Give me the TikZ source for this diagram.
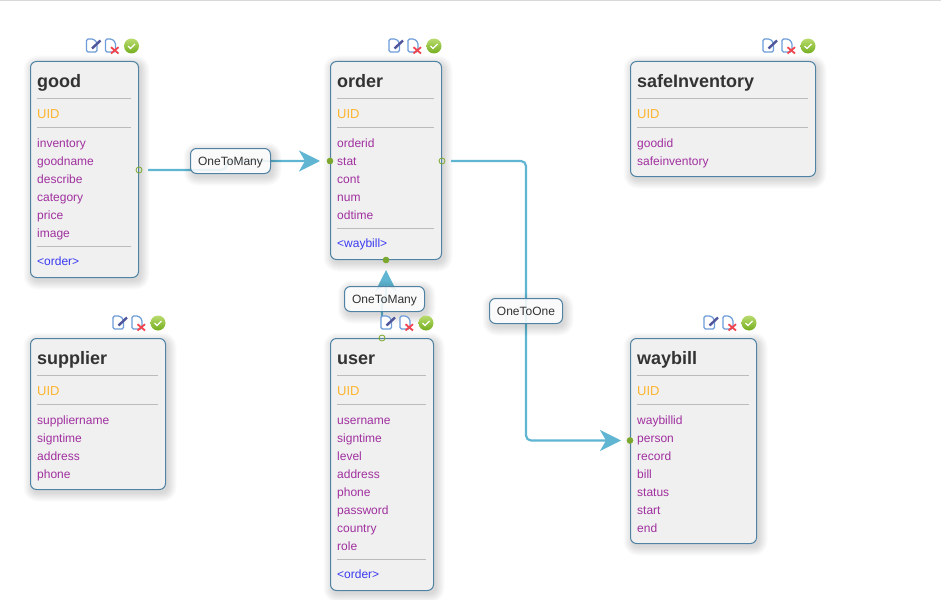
\documentclass[tikz,border=0pt]{standalone}
\usepackage{fontspec}
\setmainfont{Liberation Sans}
\usetikzlibrary{arrows.meta,calc}
\definecolor{edgeblue}{HTML}{4F82A3}
\definecolor{cardfill}{HTML}{F0F0F0}
\definecolor{ruleg}{HTML}{BBBBBB}
\definecolor{uidc}{HTML}{FFB52E}
\definecolor{attrc}{HTML}{A0309F}
\definecolor{relc}{HTML}{3A3AF0}
\definecolor{titlec}{HTML}{333333}
\definecolor{linkc}{HTML}{5FB5D2}
\definecolor{portc}{HTML}{7BA82C}
\definecolor{paperc}{HTML}{6C9BD8}
\definecolor{penc}{HTML}{50569C}
\definecolor{crossc}{HTML}{F0454F}
\definecolor{balltop}{HTML}{B9DC6E}
\definecolor{ballbot}{HTML}{74AD1E}
\tikzset{
  cardbox/.style={draw=edgeblue,line width=1pt,fill=cardfill,rounded corners=6pt,inner sep=0pt,outer sep=0pt},
  titletext/.style={anchor=base west,inner sep=0pt,font=\fontsize{18}{20}\selectfont\bfseries,text=titlec},
  uidtext/.style={anchor=base west,inner sep=0pt,font=\fontsize{13}{15}\selectfont,text=uidc},
  attrtext/.style={anchor=base west,inner sep=0pt,font=\fontsize{12}{14}\selectfont,text=attrc},
  reltext/.style={anchor=base west,inner sep=0pt,font=\fontsize{12}{14}\selectfont,text=relc},
  rulel/.style={draw=ruleg,line width=1pt},
  portopen/.style={circle,draw=portc,fill=none,line width=0.8pt,minimum size=6pt,inner sep=0pt,outer sep=0pt},
  portfull/.style={circle,draw=portc,fill=portc,line width=0.5pt,minimum size=6pt,inner sep=0pt,outer sep=0pt},
  linkline/.style={draw=linkc,line width=2.2pt,rounded corners=5pt,
    -{Stealth[length=21pt,width=21pt,inset=6pt,fill=linkc]}},
  linklabel/.style={draw=edgeblue,line width=1pt,fill=white,fill opacity=.88,text opacity=1,rounded corners=6pt,
    inner sep=0pt,text=titlec,text height=8pt,text depth=0pt,font=\fontsize{12}{14}\selectfont},
  paper/.style={draw=paperc,line width=1.2pt,fill=white,rounded corners=1.5pt},
}
\newcommand{\softshadow}[4]{%
  \foreach \s in {9,8,7,6,5,4,3,2,1,0}{%
    \pgfmathsetmacro{\rr}{5+\s}
    \fill[black,opacity=.016,rounded corners=\rr pt] ({#1-\s+2},{#2-\s+3}) rectangle ({#3+\s+2},{#4+\s+3});
  }}
% id, title, x1, y1, x2, y2, attributes, relation
\newcommand{\card}[8]{%
  \softshadow{#3}{#4}{#5}{#6}
  \node[cardbox,minimum width={(#5-#3)*1pt},minimum height={(#6-#4)*1pt}] (#1) at ({(#3+#5)/2},{(#4+#6)/2}) {};
  \node[titletext] (#1-title) at ({#3+6.5},{#4+26}) {#2};
  \draw[rulel] ({#3+6.5},{#4+37}) -- ({#5-7.5},{#4+37});
  \node[uidtext] (#1-uid) at ({#3+6.5},{#4+56.5}) {UID};
  \draw[rulel] ({#3+6.5},{#4+66}) -- ({#5-7.5},{#4+66});
  \foreach \a [count=\i from 0] in {#7}{%
    \node[attrtext] (#1-a\i) at ({#3+6.5},{#4+86+18*\i}) {\a};
  }
  \if\relax\detokenize{#8}\relax\else
    \draw[rulel] ({#3+6.5},{#6-31.5}) -- ({#5-7.5},{#6-31.5});
    \node[reltext] (#1-rel) at ({#3+6.5},{#6-12}) {#8};
  \fi
}
% icon row, given the centre of the check mark
\newcommand{\icons}[2]{%
  \begin{scope}[shift={(#1,#2)}]
    \draw[paper] (-45,-7) -- (-38,-7) -- (-34.5,-3.5) -- (-34.5,6) -- (-45,6) -- cycle;
    \draw[penc,line width=2.4pt] (-39.5,2.5) -- (-31,-5.5);
    \draw[paper] (-26,-7) -- (-19.5,-7) -- (-16,-3.5) -- (-16,6) -- (-26,6) -- cycle;
    \draw[crossc,line width=1.8pt] (-20.5,1.2) -- (-13,7.5) (-13,1.2) -- (-20.5,7.5);
    \shade[top color=balltop,bottom color=ballbot] (0,0) circle (7.5);
    \draw[white,line width=1.3pt] (-3.5,0) -- (-1,2.5) -- (3.5,-2);
  \end{scope}}
\begin{document}
\begin{tikzpicture}[x=1pt,y=-1pt]
\useasboundingbox (0,0) rectangle (941,599);
\draw[black!15,line width=1pt] (0,0.5) -- (941,0.5);

\card{good}{good}{30.5}{61.5}{138.5}{277.5}{inventory,goodname,describe,category,price,image}{<order>}
\card{order}{order}{330.5}{61.5}{441.5}{259.5}{orderid,stat,cont,num,odtime}{<waybill>}
\card{safe}{safeInventory}{630.5}{61.5}{815.5}{176.5}{goodid,safeinventory}{}
\card{supplier}{supplier}{30.5}{338.5}{165.5}{489.5}{suppliername,signtime,address,phone}{}
\card{user}{user}{330.5}{338.5}{433.5}{590.5}{username,signtime,level,address,phone,password,country,role}{<order>}
\card{waybill}{waybill}{630.5}{338.5}{756.5}{543.5}{waybillid,person,record,bill,status,start,end}{}

\node[portopen] (pgood) at (139,170) {};
\node[portfull] (porderin) at (330,161) {};
\node[portopen] (porderout) at (442,161) {};
\node[portfull] (porderbot) at (386,260) {};
\node[portopen] (puser) at (382,338) {};
\node[portfull] (pway) at (630,440.5) {};

\coordinate (e1a) at (226,170);
\coordinate (e1b) at (226,161);
\coordinate (e2a) at (382,300);
\coordinate (e2b) at (386,300);
\coordinate (e3a) at (526,161);
\coordinate (e3b) at (526,440.5);

\draw[linkline,shorten <=6pt,shorten >=7pt] (pgood) -- (e1a) -- (e1b) -- (porderin);
\draw[linkline,shorten <=6pt,shorten >=7pt] (puser) -- (e2a) -- (e2b) -- (porderbot);
\draw[linkline,shorten <=6pt,shorten >=6pt] (porderout) -- (e3a) -- (e3b) -- (pway);

\softshadow{190.5}{148.5}{270.5}{173.5}
\node[linklabel,minimum width=80pt,minimum height=25pt] (lab1) at (230.5,161) {OneToMany};
\softshadow{344.5}{286.5}{424.5}{311.5}
\node[linklabel,minimum width=80pt,minimum height=25pt] (lab2) at (384.5,299) {OneToMany};
\softshadow{489.5}{298.5}{562.5}{323.5}
\node[linklabel,minimum width=73pt,minimum height=25pt] (lab3) at (526,311) {OneToOne};

\icons{131.5}{46}
\icons{434}{46}
\icons{808}{46}
\icons{158}{323}
\icons{426}{323}
\icons{749}{323}
\end{tikzpicture}
\end{document}
